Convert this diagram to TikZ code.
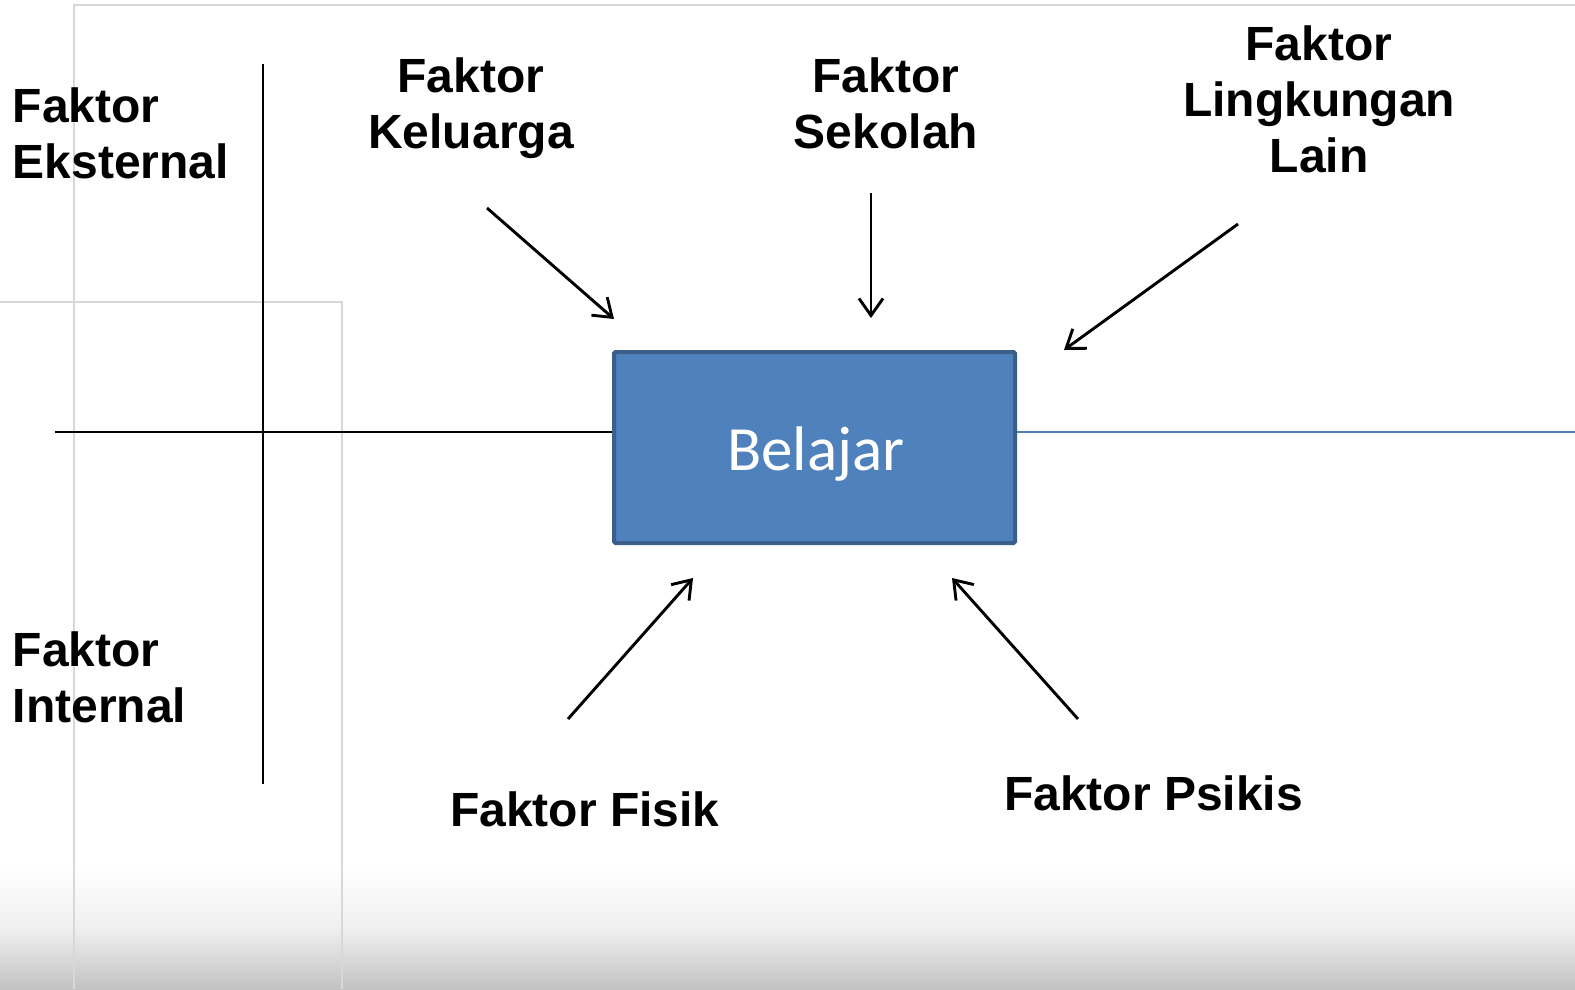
\documentclass[tikz,border=0pt]{standalone}
\usepackage{fontspec}
\setmainfont{Liberation Sans}
\newfontfamily\calib{Carlito}
\usetikzlibrary{arrows.meta}
\definecolor{boxfill}{HTML}{4F81BD}
\definecolor{boxline}{HTML}{3A5F8B}
\definecolor{faint}{HTML}{D8D8D8}
\definecolor{shadebottom}{HTML}{C2C2C2}
\definecolor{shademid}{HTML}{EFEFEF}
\begin{document}
\begin{tikzpicture}[x=1pt,y=-1pt,
  lbl/.style={font=\fontsize{48}{56}\selectfont\bfseries, inner sep=0pt, align=left, anchor=base west},
  clbl/.style={font=\fontsize{48}{56}\selectfont\bfseries, inner sep=0pt, align=center, anchor=base},
  axisline/.style={line width=2.9pt, black},
  arr/.style={line width=2.9pt, black, -{Straight Barb[length=17pt,width=24pt]}},
  faintline/.style={line width=1.8pt, faint},
  bluebox/.style={draw=boxline, fill=boxfill, line width=4pt, minimum width=401pt, minimum height=191pt, inner sep=0pt, rounded corners=1.5pt},
  blueline/.style={line width=2.5pt, boxfill}]
\useasboundingbox (0,0) rectangle (1575,989);
% background
\fill[white] (0,0) rectangle (1575,989);
\shade[top color=white, bottom color=shademid] (0,930) rectangle (1575,865);
\shade[top color=shademid, bottom color=shadebottom] (0,989) rectangle (1575,929.5);
\draw[faintline] (1575,5) -- (74,5) -- (74,989);
\draw[faintline] (0,302) -- (342,302) -- (342,989);
% axes
\coordinate (vtop) at (263,64);
\coordinate (vbot) at (263,784);
\draw[axisline] (vtop) -- (vbot);
% box
\node[bluebox] (box) at (814.5,447.5) {};
\node[font=\calib\fontsize{63}{70}\selectfont, text=white, inner sep=0pt, anchor=base] (belajar) at (816,470) {Belajar};
\coordinate (hl) at (55,432);
\coordinate (br) at (1575,432);
\draw[axisline] (hl) -- (hl -| box.west);
\draw[blueline] (box.east |- br) -- (br);
% labels (base = last line)
\node[lbl] (eks) at (12.5,178) {Faktor\\Eksternal};
\node[lbl] (int) at (12.5,722) {Faktor\\Internal};
\node[clbl] (kel) at (471,148) {Faktor\\Keluarga};
\node[clbl] (sek) at (886,148) {Faktor\\Sekolah};
\node[clbl] (lin) at (1319,172) {Faktor\\Lingkungan\\Lain};
\node[lbl] (fis) at (450,826) {Faktor Fisik};
\node[lbl] (psi) at (1004,810) {Faktor Psikis};
% arrows
\coordinate (a1s) at (487,208);  \coordinate (a1e) at (614,319);
\coordinate (a2s) at (871,193);  \coordinate (a2e) at (871,318);
\coordinate (a3s) at (1238,224); \coordinate (a3e) at (1064,350);
\coordinate (a4s) at (568,719);  \coordinate (a4e) at (693,578);
\coordinate (a5s) at (1078,719); \coordinate (a5e) at (952,578);
\draw[arr] (a1s) -- (a1e);
\draw[arr] (a2s) -- (a2e);
\draw[arr] (a3s) -- (a3e);
\draw[arr] (a4s) -- (a4e);
\draw[arr] (a5s) -- (a5e);
\end{tikzpicture}
\end{document}
